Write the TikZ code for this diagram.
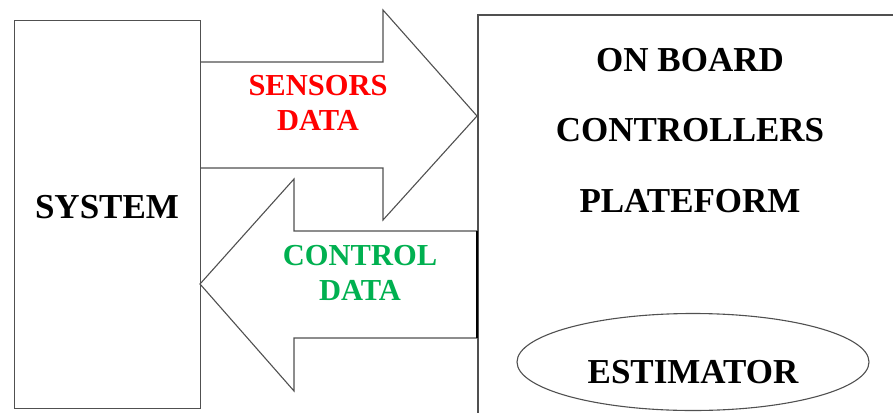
\documentclass[tikz,border=0pt]{standalone}
\usepackage{fontspec}
\setmainfont{Liberation Serif}
\usetikzlibrary{shapes.geometric}
\definecolor{linegray}{RGB}{80,80,80}
\definecolor{sensred}{RGB}{255,0,0}
\definecolor{ctrlgreen}{RGB}{0,176,80}
\begin{document}
\begin{tikzpicture}[x=1pt,y=-1pt,
  box/.style={draw=linegray,line width=1.3pt,fill=white},
  flow/.style={draw=linegray,line width=1.1pt,fill=white,line join=miter},
  lbl/.style={font=\bfseries\fontsize{35}{35}\selectfont,align=center},
  arrlbl/.style={font=\bfseries\fontsize{30.5}{35}\selectfont,align=center}]
\useasboundingbox (0,0) rectangle (893,412);
\clip (0,0) rectangle (893,412);
% right platform box (extends beyond picture)
\draw[box] (478,430) -- (478,15) -- (910,15);
% sensors arrow
\draw[flow] (200,62) -- (383,62) -- (383,10) -- (477,116) -- (383,220) -- (383,168) -- (200,168);
% control arrow
\draw[flow] (477,231) -- (294,231) -- (294,179) -- (200,284) -- (294,391) -- (294,338) -- (477,338);
\draw[black,line width=1.6pt] (477,231) -- (477,338);
% system box
\node[box,minimum width=186pt,minimum height=388pt,anchor=north west,inner sep=0pt,fill=none] (sys) at (14,20) {};
\node[lbl] (systxt) at (107,207) {SYSTEM};
% texts
\node[arrlbl,text=sensred] (sens) at (318,103) {SENSORS\\DATA};
\node[arrlbl,text=ctrlgreen] (ctrl) at (360,273) {CONTROL\\DATA};
\node[lbl] (onb) at (690,60) {ON BOARD};
\node[lbl] (ctrls) at (690,130) {CONTROLLERS};
\node[lbl] (plat) at (690,201) {PLATEFORM};
\node[ellipse,draw=linegray,line width=1.1pt,minimum width=352pt,minimum height=97pt,inner sep=0pt] (est) at (693,362) {};
\node[lbl] (esttxt) at (693,372) {ESTIMATOR};
\end{tikzpicture}
\end{document}
